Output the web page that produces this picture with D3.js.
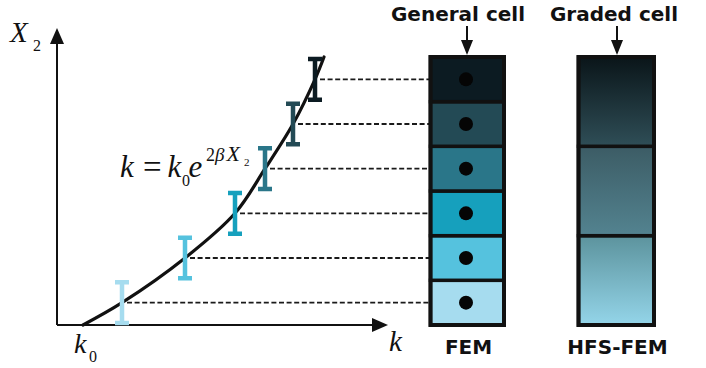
<!DOCTYPE html>
<html>
<head>
<meta charset="utf-8">
<script src="https://cdn.jsdelivr.net/npm/d3@7"></script>
<style>
  html, body { margin: 0; padding: 0; background: #ffffff; }
  svg { display: block; }
</style>
</head>
<body>
<div id="chart"></div>
<script>
// Property curve k(X2) sampled along the graded direction
const curveK  = [2.6, 6.5, 12.8, 17.8, 20.8, 23.6, 25.8, 26.7];
const curveX2 = [0, 2.23, 6.7, 11.17, 15.63, 20.1, 24.57, 26.8];

// Element edges along X2 for the six general (FEM) cells
const cellEdges = [0, 4.47, 8.93, 13.4, 17.87, 22.33, 26.8];
// k value sampled at the centre of each general cell
const barK = [6.5, 12.8, 17.8, 20.8, 23.6, 25.8];
// Element edges along X2 for the three graded (HFS-FEM) cells
const gradedEdges = [0, 8.93, 17.87, 26.8];

// Cell shades, bottom to top
const cellColors = ["#a6dcef", "#55c2de", "#16a0bd", "#2a7689", "#234a55", "#0c1b22"];
const gradedColors = [["#94d5e9", "#5c939d"], ["#538390", "#3c5c65"], ["#2f4e57", "#0a1519"]];

const W = 706, H = 368;
const svg = d3.select("#chart").append("svg")
  .attr("width", W).attr("height", H)
  .attr("viewBox", `0 0 ${W} ${H}`);

const x = d3.scaleLinear().domain([0, 33]).range([57, 387]);
const y = d3.scaleLinear().domain([0, 30]).range([325, 25]);

const ink = "#111";

// ---- axes ----
const axisG = svg.append("g");
axisG.append("line")
  .attr("x1", x(0)).attr("y1", y(0)).attr("x2", x(31.8)).attr("y2", y(0))
  .attr("stroke", ink).attr("stroke-width", 2);
axisG.append("line")
  .attr("x1", x(0)).attr("y1", y(0)).attr("x2", x(0)).attr("y2", y(28.5))
  .attr("stroke", ink).attr("stroke-width", 2);
// arrowheads
axisG.append("path")
  .attr("d", `M${x(33.1)},${y(0)} L${x(31.5)},${y(0) - 7} L${x(31.5)},${y(0) + 7} Z`)
  .attr("fill", ink);
axisG.append("path")
  .attr("d", `M${x(0)},${y(29.7)} L${x(0) - 7},${y(28.1)} L${x(0) + 7},${y(28.1)} Z`)
  .attr("fill", ink);

// axis labels
const serif = "'Liberation Serif', 'Times New Roman', serif";
function mathText(g, parts) {
  parts.forEach(p => {
    g.append("text")
      .attr("x", p.x).attr("y", p.y)
      .attr("font-family", serif)
      .attr("font-style", p.italic === false ? "normal" : "italic")
      .attr("font-size", p.size)
      .attr("fill", ink)
      .text(p.t);
  });
}
mathText(svg.append("g"), [
  { t: "X", x: 10, y: 41.5, size: 29 },
  { t: "2", x: 33, y: 50.5, size: 16, italic: false }
]);
mathText(svg.append("g"), [
  { t: "k", x: 74, y: 353, size: 28 },
  { t: "0", x: 89, y: 362, size: 16, italic: false }
]);
mathText(svg.append("g"), [
  { t: "k", x: 389, y: 351, size: 29 }
]);

// formula k = k0 e^{2βX2}
mathText(svg.append("g"), [
  { t: "k", x: 120, y: 176.5, size: 31 },
  { t: "=", x: 143, y: 177.5, size: 33, italic: false },
  { t: "k", x: 167.5, y: 176.5, size: 31 },
  { t: "0", x: 182, y: 185.5, size: 16, italic: false },
  { t: "e", x: 188.5, y: 176.5, size: 31 },
  { t: "2", x: 206, y: 160.5, size: 18, italic: false },
  { t: "β", x: 215, y: 160.5, size: 19 },
  { t: "X", x: 226.5, y: 160.5, size: 22 },
  { t: "2", x: 244, y: 165.5, size: 11, italic: false }
]);

// ---- property curve ----
const line = d3.line()
  .x(d => x(d[0])).y(d => y(d[1]))
  .curve(d3.curveCatmullRom.alpha(0.5));
svg.append("path")
  .datum(curveK.map((k, i) => [k, curveX2[i]]))
  .attr("d", line)
  .attr("fill", "none")
  .attr("stroke", ink)
  .attr("stroke-width", 3.2)
  .attr("stroke-linecap", "round");

// ---- FEM column ----
const femL = 430.5, femR = 504;
const dotX = 466;
const cells = cellEdges.slice(0, -1).map((e, i) => ({
  lo: e, hi: cellEdges[i + 1], mid: (e + cellEdges[i + 1]) / 2,
  k: barK[i], color: cellColors[i]
}));

// dashed projection lines
svg.append("g").selectAll("line").data(cells).join("line")
  .attr("x1", d => x(d.k) + 5).attr("x2", dotX)
  .attr("y1", d => y(d.mid)).attr("y2", d => y(d.mid))
  .attr("stroke", "#1a1a1a").attr("stroke-width", 1.8)
  .attr("stroke-dasharray", "5,2.6");

// I-shaped sampling bars on the curve
const capHalf = 7;
svg.append("g").selectAll("path").data(cells).join("path")
  .attr("d", d => {
    const cx = x(d.k), t = y(d.hi) + 2, b = y(d.lo) - 2;
    return `M${cx - capHalf},${t} H${cx + capHalf} M${cx},${t} V${b} M${cx - capHalf},${b} H${cx + capHalf}`;
  })
  .attr("fill", "none")
  .attr("stroke", d => d.color)
  .attr("stroke-width", 4.5);

// cells
svg.append("g").selectAll("rect").data(cells).join("rect")
  .attr("x", femL).attr("width", femR - femL)
  .attr("y", d => y(d.hi)).attr("height", d => y(d.lo) - y(d.hi))
  .attr("fill", d => d.color)
  .attr("stroke", ink).attr("stroke-width", 3.5);
svg.append("rect")
  .attr("x", femL).attr("width", femR - femL)
  .attr("y", y(cellEdges[cellEdges.length - 1])).attr("height", y(0) - y(cellEdges[cellEdges.length - 1]))
  .attr("fill", "none").attr("stroke", ink).attr("stroke-width", 4);

// Gauss-point dots
svg.append("g").selectAll("circle").data(cells).join("circle")
  .attr("cx", dotX).attr("cy", d => y(d.mid)).attr("r", 7)
  .attr("fill", "#050505");

// ---- HFS-FEM column ----
const hfsL = 578.5, hfsR = 654;
const defs = svg.append("defs");
const graded = gradedEdges.slice(0, -1).map((e, i) => ({
  lo: e, hi: gradedEdges[i + 1], colors: gradedColors[i], id: `grad${i}`
}));
graded.forEach(g => {
  const lg = defs.append("linearGradient").attr("id", g.id)
    .attr("x1", 0).attr("y1", 1).attr("x2", 0).attr("y2", 0);
  lg.append("stop").attr("offset", "0%").attr("stop-color", g.colors[0]);
  lg.append("stop").attr("offset", "100%").attr("stop-color", g.colors[1]);
});
svg.append("g").selectAll("rect").data(graded).join("rect")
  .attr("x", hfsL).attr("width", hfsR - hfsL)
  .attr("y", d => y(d.hi)).attr("height", d => y(d.lo) - y(d.hi))
  .attr("fill", d => `url(#${d.id})`)
  .attr("stroke", ink).attr("stroke-width", 3.5);
svg.append("rect")
  .attr("x", hfsL).attr("width", hfsR - hfsL)
  .attr("y", y(gradedEdges[gradedEdges.length - 1])).attr("height", y(0) - y(gradedEdges[gradedEdges.length - 1]))
  .attr("fill", "none").attr("stroke", ink).attr("stroke-width", 4);

// ---- headings, pointers and captions ----
const sans = "'DejaVu Sans', Verdana, sans-serif";
function heading(cx, text, ty, size) {
  svg.append("text")
    .attr("x", cx).attr("y", ty)
    .attr("text-anchor", "middle")
    .attr("font-family", sans).attr("font-weight", "bold")
    .attr("font-size", size).attr("fill", ink)
    .text(text);
}
function pointer(px) {
  svg.append("line").attr("x1", px).attr("x2", px).attr("y1", 26).attr("y2", 42)
    .attr("stroke", ink).attr("stroke-width", 2);
  svg.append("path").attr("d", `M${px - 6},40 L${px + 6},40 L${px},55 Z`).attr("fill", ink);
}
heading(458, "General cell", 20.5, 20);
heading(614, "Graded cell", 20.5, 20);
pointer(467);
pointer(617);
heading(468.5, "FEM", 354, 20);
heading(617.5, "HFS-FEM", 354, 20);
</script>
</body>
</html>
